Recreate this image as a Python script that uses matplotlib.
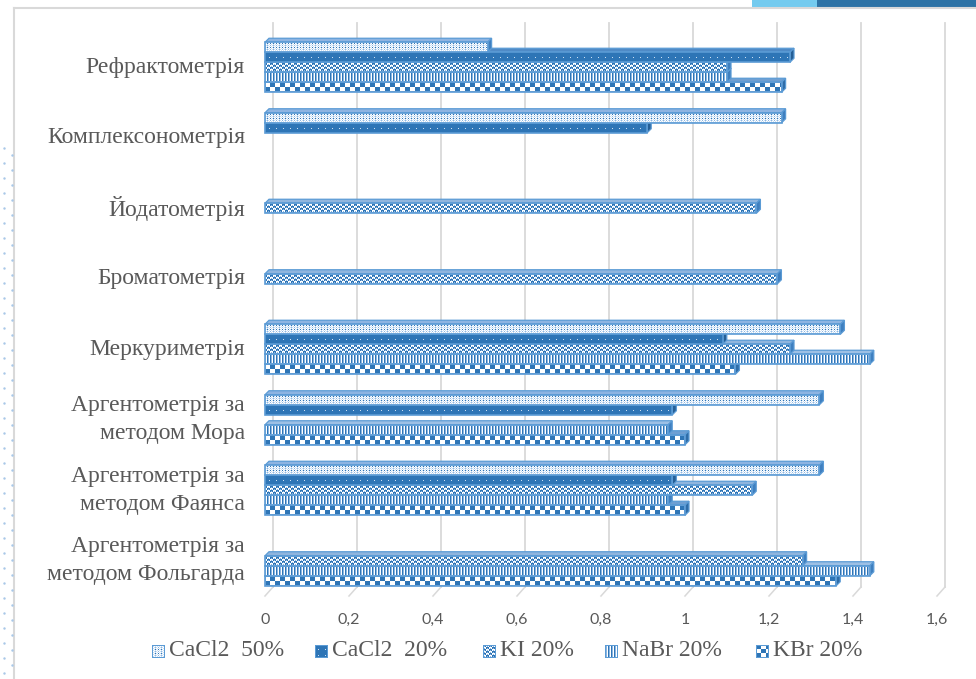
import numpy as np
import matplotlib
matplotlib.use("Agg")
import matplotlib.pyplot as plt
from matplotlib.patches import Polygon, Rectangle
from matplotlib.lines import Line2D

# ---------------- data ----------------
categories = ['Рефрактометрія', 'Комплексонометрія', 'Йодатометрія', 'Броматометрія',
              'Меркуриметрія', 'Аргентометрія за\nметодом Мора',
              'Аргентометрія за\nметодом Фаянса', 'Аргентометрія за\nметодом Фольгарда']
series_names = ['CaCl2  50%', 'CaCl2  20%', 'KI 20%', 'NaBr 20%', 'KBr 20%']
nan = np.nan
cacl2_50 = [0.53, 1.23, nan, nan, 1.37, 1.32, 1.32, nan]
cacl2_20 = [1.25, 0.91, nan, nan, 1.09, 0.97, 0.97, nan]
ki_20 = [1.10, nan, 1.17, 1.22, 1.25, nan, 1.16, 1.28]
nabr_20 = [1.10, nan, nan, nan, 1.44, 0.96, 0.96, 1.44]
kbr_20 = [1.23, nan, nan, nan, 1.12, 1.00, 1.00, 1.36]
x_ticks = [0, 0.2, 0.4, 0.6, 0.8, 1.0, 1.2, 1.4, 1.6]
x_tick_labels = ['0', '0,2', '0,4', '0,6', '0,8', '1', '1,2', '1,4', '1,6']

series_values = [cacl2_50, cacl2_20, ki_20, nabr_20, kbr_20]

# ---------------- style ----------------
W_PX, H_PX, DPI = 976, 679, 100
BLUE = np.array([46, 117, 182]) / 255
WHITE = np.array([1.0, 1.0, 1.0])
MID = np.array([140, 182, 226]) / 255
LIGHT = np.array([205, 224, 243]) / 255
EDGE_RGB = np.array([91, 155, 213]) / 255
TEXT = '#595959'
GRID = '#D9D9D9'
EDGE = '#5B9BD5'
SERIF = ['Liberation Serif', 'DejaVu Serif']
SANS = ['Lato', 'DejaVu Sans']

avg_colors = ['#C6DAEF', '#2E75B6', '#8FB5DE', '#A2C3E6', '#7FA8D6']
top_colors = ['#8DB4E2', '#4F8AC6', '#8FB5DE', '#9DC0E5', '#6F9FD2']
side_colors = ['#3F7FBF', '#255F96', '#3F7FBF', '#3F7FBF', '#2F6DA8']


def pattern(k, X, Y):
    """Return RGB image of the fill pattern of series k on pixel grids."""
    arr = np.ones(X.shape + (3,))
    if k == 0:      # fine dotted grid
        arr[:] = WHITE
        arr[(X + Y) % 2 == 0] = LIGHT
        arr[(X % 3 == 0) & (Y % 2 == 0)] = MID
        arr[(X % 3 == 0) & (Y % 4 == 0)] = BLUE
    elif k == 1:    # solid with small white dots
        arr[:] = BLUE
        arr[(X % 7 == 3) & (Y % 6 == 4)] = LIGHT
    elif k == 2:    # mottled wave
        arr[:] = WHITE
        arr[((X // 3) + (Y // 2)) % 2 == 0] = BLUE
        arr[((X % 3) == 1) & ((Y % 2) == 1)] = MID
    elif k == 3:    # vertical lines
        arr[:] = WHITE
        arr[X % 3 == 0] = BLUE
        arr[X % 3 == 1] = MID
    else:           # checker
        arr[:] = WHITE
        arr[((X // 5) + (Y // 4)) % 2 == 0] = BLUE
    return arr


fig = plt.figure(figsize=(W_PX / DPI, H_PX / DPI), dpi=DPI)
fig.patch.set_facecolor('white')

# front plane of plot area in pixels
left_px, right_px = 265, 937
top_px, bot_px = 32, 596
ax = fig.add_axes([left_px / W_PX, 1 - bot_px / H_PX,
                   (right_px - left_px) / W_PX, (bot_px - top_px) / H_PX])
ax.set_xlim(0, 1.6)
ax.set_ylim(len(categories) - 0.5, -0.5)
ax.axis('off')
ax.patch.set_visible(False)

px_per_x = (right_px - left_px) / 1.6
px_per_y = (bot_px - top_px) / len(categories)
bar_h = 10 / px_per_y
ddx, ddy = 4 / px_per_x, 4 / px_per_y          # bar depth
bdx, bdy = 8 / px_per_x, 9 / px_per_y          # back wall offset

# back wall grid + floor diagonals
ymin, ymax = -0.5, len(categories) - 0.5
for v in x_ticks:
    ax.plot([v + bdx, v + bdx], [ymin - bdy, ymax - bdy], color=GRID, lw=1.3,
            zorder=1, clip_on=False)
    ax.plot([v + bdx, v], [ymax - bdy, ymax], color=GRID, lw=1.1,
            zorder=1, clip_on=False)

# tick labels
for v, lab in zip(x_ticks, x_tick_labels):
    ax.text(v, ymax + 24 / px_per_y, lab, ha='center', va='center', fontsize=11.5,
            color=TEXT, family=SANS)

# category labels
for i, cat in enumerate(categories):
    ax.text(-20 / px_per_x, i, cat, ha='right', va='center', fontsize=17,
            color=TEXT, family=SERIF, linespacing=1.45)

# bars (drawn bottom slot first so that upper bars cover lower top faces)
nser = len(series_values)
front_boxes = []
z = 2
for i in range(len(categories)):
    for k in range(nser - 1, -1, -1):
        val = series_values[k][i]
        if np.isnan(val):
            continue
        yc = i + (k - (nser - 1) / 2) * bar_h
        y0, y1 = yc - bar_h / 2, yc + bar_h / 2   # top, bottom in data (inverted)
        top = Polygon([(0, y0), (val, y0), (val + ddx, y0 - ddy), (ddx, y0 - ddy)],
                      closed=True, facecolor=top_colors[k], edgecolor=EDGE, lw=0.9,
                      zorder=z, clip_on=False)
        side = Polygon([(val, y0), (val + ddx, y0 - ddy), (val + ddx, y1 - ddy), (val, y1)],
                       closed=True, facecolor=side_colors[k], edgecolor=EDGE, lw=0.9,
                       zorder=z, clip_on=False)
        front = Rectangle((0, y0), val, bar_h, facecolor=avg_colors[k], edgecolor=EDGE,
                          lw=1.2, zorder=z + 0.5, clip_on=False)
        ax.add_patch(top)
        ax.add_patch(side)
        ax.add_patch(front)
        z += 1
        front_boxes.append((k, 0, y0, val, y1))

# pixel patterns on front faces
for k, x0, y0, x1, y1 in front_boxes:
    (pxa, pya), (pxb, pyb) = ax.transData.transform([(x0, y0), (x1, y1)])
    xs, xe = int(round(min(pxa, pxb))) + 1, int(round(max(pxa, pxb))) - 1
    ys, ye = int(round(min(pya, pyb))) + 1, int(round(max(pya, pyb))) - 1
    w, h = xe - xs, ye - ys
    if w <= 0 or h <= 0:
        continue
    Y, X = np.indices((h, w))
    img = pattern(k, X + xs, Y)
    fig.figimage(img, xo=xs, yo=ys, origin='upper', zorder=1)

# legend (manual)
leg_marker_x = [152, 315, 483, 605, 756]
leg_y = 651
for k, name in enumerate(series_names):
    mx = leg_marker_x[k]
    size = 13
    Y, X = np.indices((size, size))
    img = pattern(k, X, Y)
    img[0, :] = EDGE_RGB; img[-1, :] = EDGE_RGB; img[:, 0] = EDGE_RGB; img[:, -1] = EDGE_RGB
    fig.figimage(img, xo=mx, yo=H_PX - leg_y - size // 2 - 1, origin='upper', zorder=2)
    fig.text((mx + size + 4) / W_PX, 1 - leg_y / H_PX, name, ha='left', va='center',
             fontsize=17, color=TEXT, family=SERIF)

# chart frame and decorations
fig.add_artist(Line2D([14 / W_PX, 14 / W_PX], [0, 1 - 8 / H_PX], color='#D9D9D9',
                      lw=1.5, transform=fig.transFigure))
fig.add_artist(Line2D([14 / W_PX, 1], [1 - 8 / H_PX, 1 - 8 / H_PX], color='#D9D9D9',
                      lw=1.5, transform=fig.transFigure))
fig.add_artist(Rectangle((752 / W_PX, 1 - 7 / H_PX), 66 / W_PX, 7 / H_PX,
                         facecolor='#74CBEF', edgecolor='none', transform=fig.transFigure))
fig.add_artist(Rectangle((817 / W_PX, 1 - 7 / H_PX), 159 / W_PX, 7 / H_PX,
                         facecolor='#2E73A6', edgecolor='none', transform=fig.transFigure))
dot_y = np.arange(148, 679, 15)
fig.add_artist(Line2D(np.full(dot_y.shape, 4 / W_PX), 1 - dot_y / H_PX, ls='none',
                      marker='.', ms=1.5, color='#A9C8E8', transform=fig.transFigure))
fig.add_artist(Line2D(np.full(dot_y.shape, 12 / W_PX), 1 - (dot_y + 7) / H_PX, ls='none',
                      marker='.', ms=1.5, color='#A9C8E8', transform=fig.transFigure))

fig.savefig('out.png', dpi=DPI)
